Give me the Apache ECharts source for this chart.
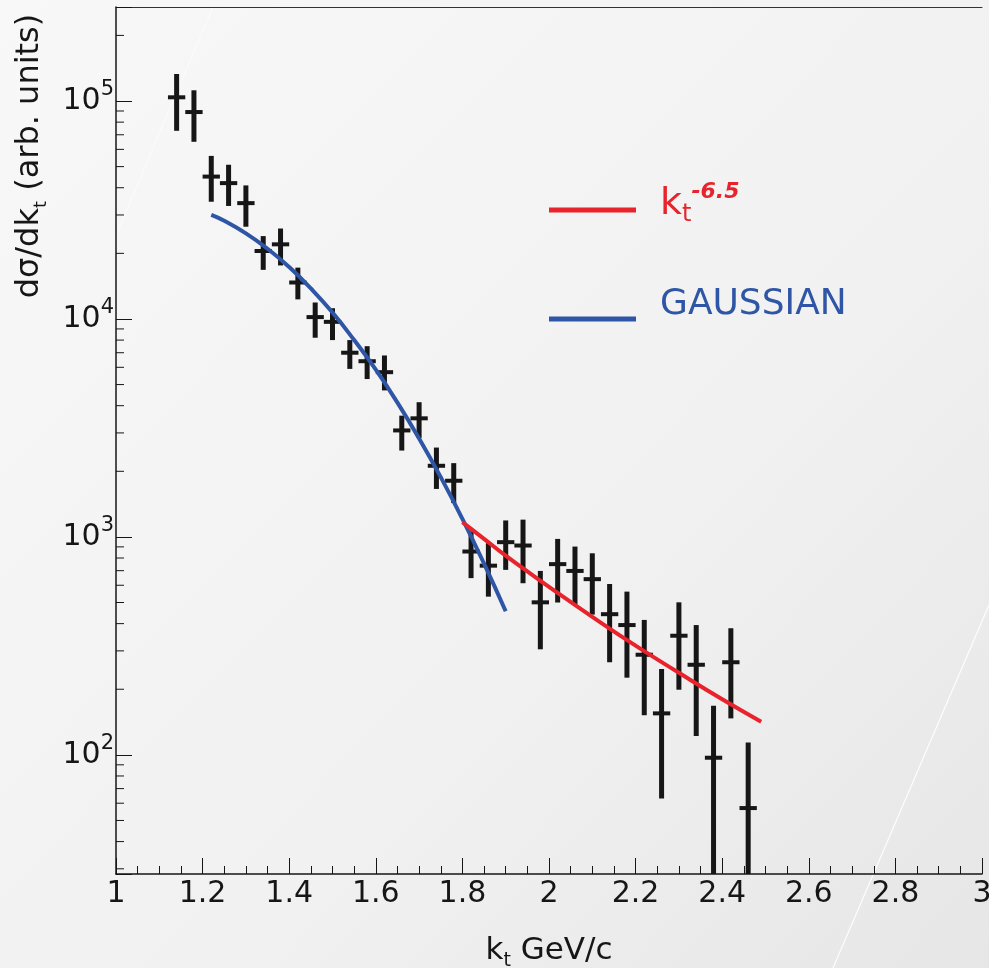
<!DOCTYPE html>
<html>
<head>
<meta charset="utf-8">
<script src="https://cdn.jsdelivr.net/npm/echarts@6/dist/echarts.min.js"></script>
<style>
html,body{margin:0;padding:0;background:#f3f3f3;}
#chart{width:989px;height:968px;}
</style>
</head>
<body>
<div id="chart"></div>
<script>
// ---- data ----
const kt      = [1.14,1.18,1.22,1.26,1.30,1.34,1.38,1.42,1.46,1.50,1.54,1.58,1.62,1.66,1.70,1.74,1.78,1.82,1.86,1.90,1.94,1.98,2.02,2.06,2.10,2.14,2.18,2.22,2.26,2.30,2.34,2.38,2.42,2.46];
const xsec    = [104000,89000,45000,42000,34000,20500,22000,14700,10200,9700,7000,6400,5700,3080,3500,2120,1810,857,738,946,913,501,750,698,640,442,394,288,155,352,259,97,266,57];
const errLow  = [73000,65000,34500,33000,26500,16800,17600,12300,8200,8000,5900,5300,4700,2490,2840,1660,1430,647,532,706,613,305,500,490,440,266,226,152,63,199,122,10,147,10];
const errHigh = [133000,112000,56000,51000,41000,24000,26000,17200,11900,11200,8000,7500,6800,3600,4150,2570,2180,1060,936,1190,1200,698,979,903,841,608,561,416,248,501,394,168,381,114];

const gaussX  = [1.22,1.25,1.30,1.35,1.40,1.45,1.50,1.55,1.60,1.65,1.70,1.75,1.80,1.85,1.90];
const gaussY  = [30000,28200,24700,21000,17300,13800,10700,8000,5850,4130,2830,1880,1210,754,456];

const powX    = [1.80,1.85,1.90,1.95,2.00,2.10,2.20,2.30,2.40,2.49];
const powY    = [1170,980,820,695,590,430,317,238,180,142];

const yMinorTicks = [30,40,50,60,70,80,90,200,300,400,500,600,700,800,900,2000,3000,4000,5000,6000,7000,8000,9000,20000,30000,40000,50000,60000,70000,80000,90000,200000];

const legendNames = ['kt^-6.5','GAUSSIAN'];
const xAxisTitle = 'GeV/c';
const yAxisTitle = ['dσ/dk','t',' (arb. units)'];

// ---- chart ----
const chart = echarts.init(document.getElementById('chart'), null, {renderer:'canvas'});
const FONT = 'DejaVu Sans';
const INK = '#161616';
const RED = '#e8232b';
const BLUE = '#2f56a6';
const X_MIN = 1, X_MAX = 3;
const BIN_HALF = 0.02;

const errData = kt.map((x,i)=>[x, xsec[i], errLow[i], errHigh[i]]);

const option = {
  animation:false,
  backgroundColor:{type:'linear',x:0,y:0,x2:1,y2:1,colorStops:[{offset:0,color:'#f8f8f8'},{offset:0.6,color:'#f1f1f1'},{offset:1,color:'#e6e6e6'}]},
  grid:{left:116,right:7,top:7,bottom:94,containLabel:false,outerBoundsMode:'none'},
  xAxis:[{
    type:'value',min:X_MIN,max:X_MAX,interval:0.2,
    axisLine:{show:true,lineStyle:{color:INK,width:1.5}},
    axisTick:{show:true,inside:true,length:16,lineStyle:{color:INK,width:1}},
    minorTick:{show:true,splitNumber:4,length:8,lineStyle:{color:INK,width:1}},
    splitLine:{show:false},
    axisLabel:{fontFamily:FONT,fontSize:30,color:INK,margin:5,showMaxLabel:true,showMinLabel:true,hideOverlap:false},
    name:'{k|k}{t|t}{n| '+xAxisTitle+'}',
    nameLocation:'middle',nameGap:57,
    nameTextStyle:{rich:{
      k:{fontFamily:FONT,fontSize:31,color:INK,lineHeight:40},
      t:{fontFamily:FONT,fontSize:19,color:INK,lineHeight:30,verticalAlign:'bottom'},
      n:{fontFamily:FONT,fontSize:31,color:INK,lineHeight:40}
    }}
  },{
    type:'value',min:X_MIN,max:X_MAX,position:'top',
    axisLine:{show:true,lineStyle:{color:'#333',width:1}},
    axisTick:{show:false},axisLabel:{show:false},splitLine:{show:false}
  }],
  yAxis:{
    type:'log',logBase:10,min:28.4,max:270000,
    axisLine:{show:true,lineStyle:{color:INK,width:1.5}},
    axisTick:{show:true,inside:true,length:16,lineStyle:{color:INK,width:1}},
    minorTick:{show:false},
    splitLine:{show:false},
    axisLabel:{
      margin:2,
      formatter:function(v){
        const l = Math.log10(v); const e = Math.round(l);
        if (Math.abs(l-e) > 1e-6) return '';
        return '{b|10}{s|'+e+'}';
      },
      rich:{
        b:{fontFamily:FONT,fontSize:30,color:INK,lineHeight:44},
        s:{fontFamily:FONT,fontSize:21,color:INK,lineHeight:21,verticalAlign:'top'}
      }
    }
  },
  series:[
    {
      name:'yMinor',type:'custom',silent:true,clip:true,z:3,
      data:yMinorTicks.map(v=>[X_MIN,v]),
      encode:{x:0,y:1},
      renderItem:function(params,api){
        const p = api.coord([X_MIN, api.value(1)]);
        return {type:'line',shape:{x1:p[0],y1:p[1],x2:p[0]+8,y2:p[1]},style:{stroke:INK,lineWidth:1}};
      }
    },
    {
      name:'data',type:'custom',clip:true,z:4,
      data:errData,
      encode:{x:0,y:1},
      renderItem:function(params,api){
        const x = api.value(0);
        const c = api.coord([x, api.value(1)]);
        const lo = api.coord([x, api.value(2)]);
        const hi = api.coord([x, api.value(3)]);
        const l = api.coord([x-BIN_HALF, api.value(1)]);
        const r = api.coord([x+BIN_HALF, api.value(1)]);
        return {type:'group',children:[
          {type:'line',shape:{x1:c[0],y1:hi[1],x2:c[0],y2:lo[1]},style:{stroke:INK,lineWidth:5}},
          {type:'line',shape:{x1:l[0],y1:c[1],x2:r[0],y2:c[1]},style:{stroke:INK,lineWidth:4}}
        ]};
      }
    },
    {
      name:legendNames[1],type:'line',z:6,smooth:true,symbol:'none',
      data:gaussX.map((x,i)=>[x,gaussY[i]]),
      lineStyle:{color:BLUE,width:4},itemStyle:{color:BLUE}
    },
    {
      name:legendNames[0],type:'line',z:6,smooth:true,symbol:'none',
      data:powX.map((x,i)=>[x,powY[i]]),
      lineStyle:{color:RED,width:4},itemStyle:{color:RED}
    }
  ],
  graphic:[
    // faint scan lines of the background
    {type:'line',silent:true,z:-1,shape:{x1:833,y1:968,x2:989,y2:605},style:{stroke:'#ffffff',lineWidth:1.2,opacity:0.9}},
    {type:'line',silent:true,z:-1,shape:{x1:117,y1:233,x2:213,y2:7},style:{stroke:'#ffffff',lineWidth:1,opacity:0.6}},
    // legend
    {type:'line',z:10,shape:{x1:549,y1:210,x2:636,y2:210},style:{stroke:RED,lineWidth:5}},
    {type:'text',z:10,x:660,y:204,style:{
      text:'{k|k}{t|t}{e|-6.5}',verticalAlign:'middle',align:'left',
      rich:{
        k:{fontFamily:FONT,fontSize:38,fill:RED,lineHeight:46},
        t:{fontFamily:FONT,fontSize:24,fill:RED,lineHeight:25,verticalAlign:'bottom'},
        e:{fontFamily:FONT,fontSize:22,fontWeight:'bold',fontStyle:'italic',fill:RED,lineHeight:20,verticalAlign:'top'}
      }
    }},
    {type:'line',z:10,shape:{x1:549,y1:319,x2:636,y2:319},style:{stroke:BLUE,lineWidth:5}},
    {type:'text',z:10,x:660,y:305,style:{text:legendNames[1],fontFamily:FONT,fontSize:36,fill:BLUE,verticalAlign:'middle',align:'left'}},
    // y axis title
    {type:'text',z:10,x:30,y:156,rotation:Math.PI/2,style:{
      text:'{a|'+yAxisTitle[0]+'}{t|'+yAxisTitle[1]+'}{a|'+yAxisTitle[2]+'}',
      align:'center',verticalAlign:'middle',
      rich:{
        a:{fontFamily:FONT,fontSize:32,fill:INK,lineHeight:40},
        t:{fontFamily:FONT,fontSize:18,fill:INK,lineHeight:30,verticalAlign:'bottom'}
      }
    }}
  ]
};
chart.setOption(option);
</script>
</body>
</html>
